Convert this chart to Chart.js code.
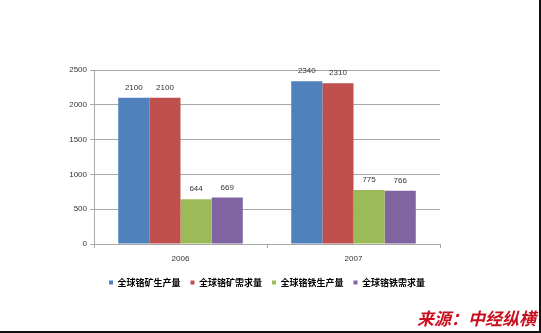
<!DOCTYPE html>
<html>
<head>
<meta charset="utf-8">
<script src="https://cdn.jsdelivr.net/npm/chart.js@4.4.1/dist/chart.umd.min.js"></script>
<style>
  html, body { margin: 0; padding: 0; background: #fff; }
  #wrap {
    position: relative; width: 541px; height: 333px; box-sizing: border-box;
    border-right: 2px solid #111; border-bottom: 2px solid #111;
  }
  #chart { position: absolute; left: 0; top: 0; }
  #source {
    position: absolute; right: 3px; top: 305px;
    font: italic bold 17px "Noto Sans CJK SC", sans-serif; color: #c8101e;
  }
</style>
</head>
<body>
<div id="wrap">
  <canvas id="chart" width="539" height="331"></canvas>
  <div id="source">来源：中经纵横</div>
</div>
<script>
// data
const years = ["2006", "2007"];
const seriesNames = ["全球铬矿生产量", "全球铬矿需求量", "全球铬铁生产量", "全球铬铁需求量"];
const oreOutput = [2100, 2340];
const oreDemand = [2100, 2310];
const ferroOutput = [644, 775];
const ferroDemand = [669, 766];
const yTicks = [0, 500, 1000, 1500, 2000, 2500];

const colors = ["#4f81bd", "#c0504d", "#9bbb59", "#8064a2"];
const gridColor = "#a8a8a8";
const tickFont = { family: "'Liberation Sans', Arial, sans-serif", size: 8 };

// value labels above each bar
const valueLabels = {
  id: "valueLabels",
  afterDatasetsDraw(chart) {
    const ctx = chart.ctx;
    ctx.save();
    ctx.font = "8px 'Liberation Sans', Arial, sans-serif";
    ctx.fillStyle = "#333";
    ctx.textAlign = "center";
    ctx.textBaseline = "bottom";
    chart.data.datasets.forEach((ds, i) => {
      chart.getDatasetMeta(i).data.forEach((bar, j) => {
        ctx.fillText(String(ds.data[j]), bar.x, bar.y - 6);
      });
    });
    ctx.restore();
  }
};

const seriesData = [oreOutput, oreDemand, ferroOutput, ferroDemand];

new Chart(document.getElementById("chart"), {
  type: "bar",
  data: {
    labels: years,
    datasets: seriesNames.map((name, i) => ({
      label: name,
      data: seriesData[i],
      backgroundColor: colors[i],
      borderWidth: 0,
      categoryPercentage: 0.72,
      barPercentage: 1
    }))
  },
  options: {
    responsive: false,
    animation: false,
    layout: { padding: { top: 70, right: 99, bottom: 34, left: 0 } },
    plugins: {
      tooltip: { enabled: false },
      legend: {
        position: "bottom",
        fullSize: false,
        labels: {
          boxWidth: 4,
          boxHeight: 4,
          padding: 10,
          color: "#000",
          font: { family: "'Noto Sans CJK SC', sans-serif", size: 9, weight: "bold" }
        }
      }
    },
    scales: {
      x: {
        grid: { drawOnChartArea: false, color: gridColor, tickLength: 4, offset: true },
        border: { color: gridColor },
        ticks: { color: "#333", font: tickFont, padding: 6 },
        afterFit(scale) { scale.height = 24; }
      },
      y: {
        min: 0,
        max: 2500,
        afterBuildTicks(scale) { scale.ticks = yTicks.map(v => ({ value: v })); },
        grid: { color: gridColor, tickLength: 4 },
        border: { color: gridColor },
        ticks: { color: "#333", font: tickFont, padding: 3, callback: v => String(v) },
        afterFit(scale) { scale.width = 94; }
      }
    }
  },
  plugins: [valueLabels]
});
</script>
</body>
</html>
